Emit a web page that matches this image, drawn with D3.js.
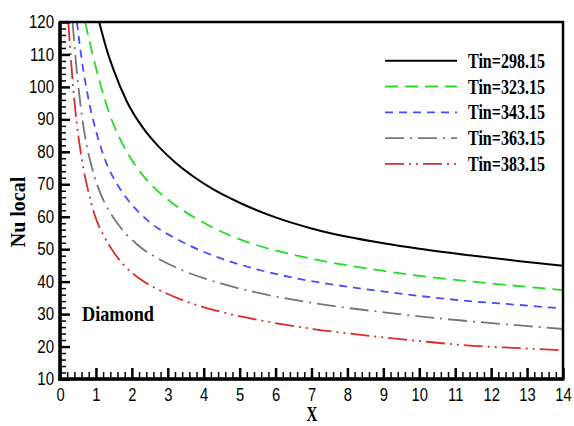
<!DOCTYPE html>
<html><head><meta charset="utf-8">
<script src="https://cdn.jsdelivr.net/npm/d3@7"></script>
<style>body{margin:0;background:#fff}svg{display:block}</style>
</head><body><svg id="c" width="574" height="426"></svg>
<script>
// ---- data ----
const seriesNames = ["Tin=298.15","Tin=323.15","Tin=343.15","Tin=363.15","Tin=383.15"];
const x298 = [1.09,1.3,1.5,1.86,2.32,2.78,3.25,3.71,4.27,5.0,6.0,7.0,8.0,9.0,10.0,11.4,12.8,14];
const y298 = [120,111.5,105,95.5,87.2,81.2,76.3,72.4,68.4,64.3,59.8,56.4,53.8,51.8,50.1,48.1,46.3,44.9];
const x323 = [0.70,0.93,1.21,1.39,1.67,1.95,2.23,2.6,3.15,3.8,4.3,4.83,5.4,6.0,6.6,7.2,7.8,8.4,9.0,10,11.4,12.8,14];
const y323 = [120,109,97.5,91.3,84,78.3,73.8,69.2,64.0,59.4,56.4,53.8,51.5,49.6,48.0,46.6,45.4,44.3,43.3,41.8,40.1,38.6,37.4];
const x343 = [0.47,0.52,0.60,0.70,0.835,0.974,1.11,1.30,1.58,1.86,2.23,2.5,3.34,4.27,5.48,6.68,7.9,8.9,10,11.4,12.8,14];
const y343 = [120,115.5,108.8,101.8,94,87.6,82.3,76.3,70.2,65.6,61.0,58.3,52.6,48.0,43.8,40.8,38.6,37.1,35.6,34.0,32.8,31.7];
const x363 = [0.35,0.445,0.575,0.742,0.881,1.02,1.2,1.4,1.6,2.13,2.78,3.34,4.55,5.66,6.77,8.07,8.9,10,11.4,12.8,14];
const y363 = [120,107.5,94,82,75.5,70.3,65.3,61.2,57.9,51.6,46.8,43.8,39.2,36.2,33.9,31.8,30.7,29.3,27.8,26.5,25.4];
const x383 = [0.23,0.25,0.325,0.371,0.464,0.557,0.649,0.789,0.88,0.97,1.21,1.5,1.76,2.23,2.88,3.34,4.27,5.2,6.12,7.05,7.98,8.7,10,11.4,12.8,14];
const y383 = [120,117,105.5,99.2,89,81.3,75.0,67.8,63.8,60.4,54.3,49.0,45.3,40.8,36.8,34.6,31.3,28.9,27.0,25.4,24.1,23.2,21.7,20.3,19.5,18.8];
const xTicks = [0,1,2,3,4,5,6,7,8,9,10,11,12,13,14];
const yTicks = [10,20,30,40,50,60,70,80,90,100,110,120];

const colors = ["#000000","#22dd22","#4a4aff","#777777","#e02a2a"];
const dashes = [null,"13,7","8,6","19,6,2,6","19,5,2,5,2,5"];
const xs = [x298,x323,x343,x363,x383];
const ys = [y298,y323,y343,y363,y383];

const svg = d3.select("#c");
const L=60,R=563,T=22,B=379;
const x = d3.scaleLinear().domain([0,14]).range([L,R]);
const y = d3.scaleLinear().domain([10,120]).range([B,T]);

function squeeze(sel,k){
  sel.each(function(){
    const w=this.getComputedTextLength();
    d3.select(this).attr("textLength",w*k).attr("lengthAdjust","spacingAndGlyphs");
  });
}

svg.append("clipPath").attr("id","clip").append("rect")
  .attr("x",L).attr("y",T).attr("width",R-L).attr("height",B-T);

// curves
const line = d3.line().x(d=>x(d[0])).y(d=>y(d[1])).curve(d3.curveMonotoneX);
const g = svg.append("g").attr("clip-path","url(#clip)");
xs.forEach((xa,i)=>{
  const pts = xa.map((v,j)=>[v,ys[i][j]]);
  g.append("path").attr("d",line(pts)).attr("fill","none")
    .attr("stroke",colors[i]).attr("stroke-width",i===0?2:1.8)
    .attr("stroke-dasharray",dashes[i]);
});

// minor ticks
const xMinor = d3.range(0,14.001,0.2).filter(v=>Math.abs(v-Math.round(v))>1e-6);
const yMinor = d3.range(10,120.001,2).filter(v=>Math.round(v)%10!==0);
svg.append("g").attr("transform",`translate(0,${B})`)
  .call(d3.axisBottom(x).tickValues(xMinor).tickSize(-7).tickFormat(""))
  .call(a=>a.select(".domain").remove())
  .selectAll("line").attr("stroke","#000").attr("stroke-width",1.5);
svg.append("g").attr("transform",`translate(${L},0)`)
  .call(d3.axisLeft(y).tickValues(yMinor).tickSize(-6).tickFormat(""))
  .call(a=>a.select(".domain").remove())
  .selectAll("line").attr("stroke","#000").attr("stroke-width",1.5);

// major ticks
const xa = svg.append("g").attr("transform",`translate(0,${B})`)
  .call(d3.axisBottom(x).tickValues(xTicks).tickSize(-11).tickPadding(9).tickFormat(d3.format("d")))
  .call(a=>a.select(".domain").remove());
xa.selectAll("line").attr("stroke","#000").attr("stroke-width",2.5);
xa.selectAll("text").attr("font-family","Liberation Sans, Arial, sans-serif").attr("font-size",18).attr("fill","#000")
  .call(squeeze,0.82);
const ya = svg.append("g").attr("transform",`translate(${L},0)`)
  .call(d3.axisLeft(y).tickValues(yTicks).tickSize(-10).tickPadding(6).tickFormat(d3.format("d")))
  .call(a=>a.select(".domain").remove());
ya.selectAll("line").attr("stroke","#000").attr("stroke-width",2.5);
ya.selectAll("text").attr("font-family","Liberation Sans, Arial, sans-serif").attr("font-size",17.5).attr("fill","#000")
  .call(squeeze,0.86);

// frame
svg.append("rect").attr("x",L).attr("y",T).attr("width",R-L).attr("height",B-T)
  .attr("fill","none").attr("stroke","#000").attr("stroke-width",2.5);
svg.append("line").attr("x1",L).attr("x2",L).attr("y1",T).attr("y2",B+1.5).attr("stroke","#000").attr("stroke-width",3.5);
svg.append("line").attr("x1",L-1.5).attr("x2",R+1.3).attr("y1",B).attr("y2",B).attr("stroke","#000").attr("stroke-width",3.5);

// legend
const lg = svg.append("g");
seriesNames.forEach((n,i)=>{
  const yy = 60.7 + i*25.8;
  lg.append("line").attr("x1",385).attr("x2",457).attr("y1",yy).attr("y2",yy)
    .attr("stroke",colors[i]).attr("stroke-width",i===0?2:1.8).attr("stroke-dasharray",dashes[i]);
  lg.append("text").attr("x",468).attr("y",yy+7).text(n)
    .attr("font-family","Liberation Serif, Times New Roman, serif").attr("font-weight","bold")
    .attr("font-size",21).attr("textLength",77).attr("lengthAdjust","spacingAndGlyphs");
});

// labels
svg.append("text").attr("x",82).attr("y",321).text("Diamond")
  .attr("font-family","Liberation Serif, Times New Roman, serif").attr("font-weight","bold")
  .attr("font-size",21).attr("textLength",72).attr("lengthAdjust","spacingAndGlyphs");
svg.append("text").attr("x",312).attr("y",421).attr("text-anchor","middle").text("X")
  .attr("font-family","Liberation Serif, Times New Roman, serif").attr("font-weight","bold")
  .attr("font-size",20).call(squeeze,0.75);
svg.append("text").attr("transform","translate(25,212) rotate(-90)").attr("text-anchor","middle").text("Nu local")
  .attr("font-family","Liberation Serif, Times New Roman, serif").attr("font-weight","bold")
  .attr("font-size",20);
</script></body></html>
